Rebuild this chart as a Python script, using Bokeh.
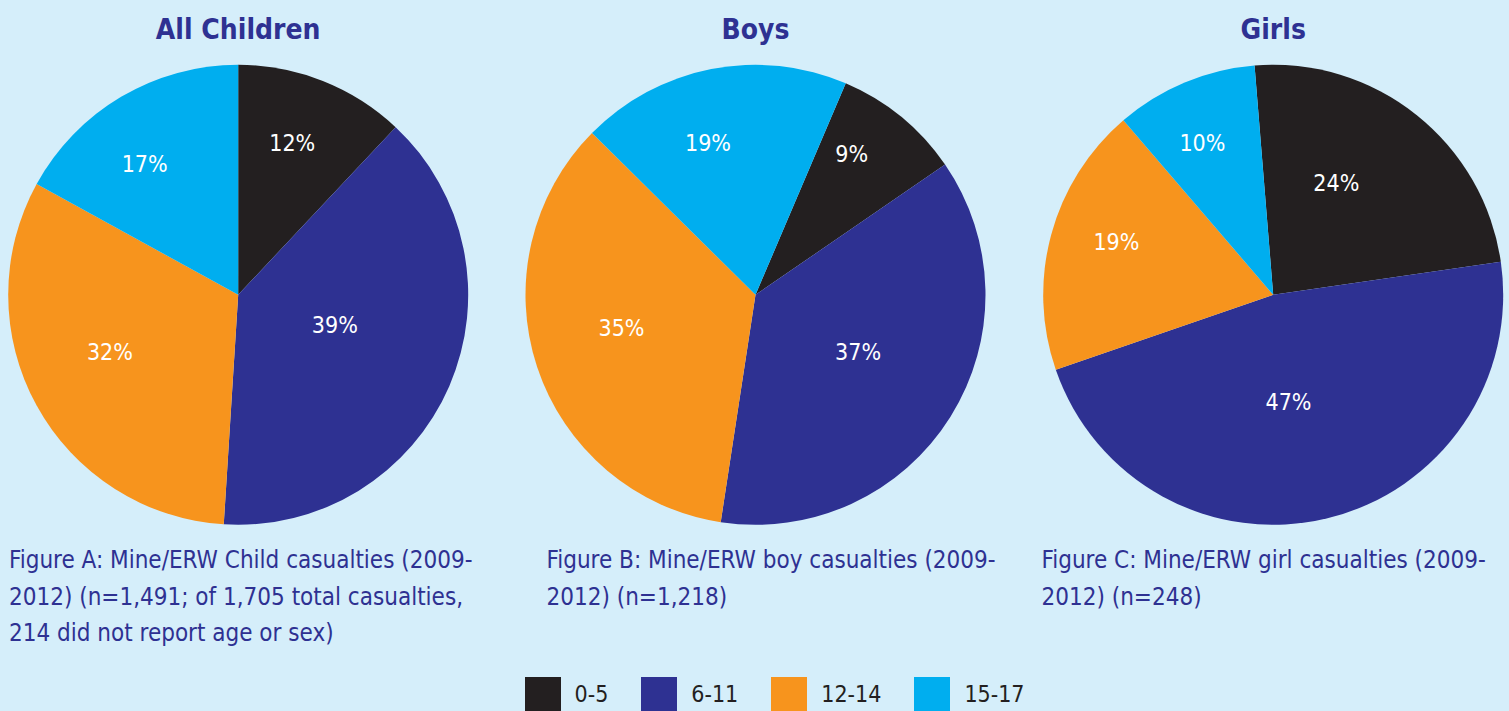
import math
from bokeh.plotting import figure
from bokeh.models import ColumnDataSource, Range1d
from bokeh.core.properties import value
from bokeh.embed import file_html
from bokeh.resources import INLINE

# ---------------- data ----------------
age_groups = ["0-5", "6-11", "12-14", "15-17"]
pie_titles = ["All Children", "Boys", "Girls"]
all_children = [12, 39, 32, 17]
boys = [9, 37, 35, 19]
girls = [24, 47, 19, 10]
captions = [
    ["Figure A: Mine/ERW Child casualties (2009-",
     "2012) (n=1,491; of 1,705 total casualties,",
     "214 did not report age or sex)"],
    ["Figure B: Mine/ERW boy casualties (2009-",
     "2012) (n=1,218)"],
    ["Figure C: Mine/ERW girl casualties (2009-",
     "2012) (n=248)"],
]

# ---------------- style / layout ----------------
colors = ["#231f20", "#2e3192", "#f7941d", "#00aeef"]
BG = "#d5eefa"
NAVY = "#2e3192"
FONT = "DejaVu Sans Condensed, Roboto, sans-serif"
W, H = 1509, 711
centers_x = [237.7, 755.0, 1272.7]
center_y = 416.7
R = 230
start_deg = [0.0, 23.1, -4.65]        # clockwise from 12 o'clock
# label placement: radius fraction and angular nudge from slice middle (deg)
label_r = [[0.70, 0.44, 0.61, 0.70],
           [0.74, 0.51, 0.60, 0.69],
           [0.56, 0.47, 0.72, 0.73]]
label_dtheta = [[-2.0, -6.1, 4.9, -4.9],
                [-4.9, -3.1, 4.4, -6.3],
                [-9.2, 5.5, 3.6, -2.3]]
caption_x = [8.5, 546.0, 1041.0]
caption_y0 = 151.5
caption_dy = 36.5
title_y = 682.5

series = [all_children, boys, girls]

p = figure(width=W, height=H, x_range=Range1d(0, W), y_range=Range1d(0, H),
           output_backend="svg", toolbar_location=None, min_border=0,
           x_axis_type=None, y_axis_type=None,
           background_fill_color=BG, border_fill_color=BG, outline_line_color=None)
p.grid.visible = False

wx, wy, ws, we, wc, wg = [], [], [], [], [], []
lx, ly, lt = [], [], []
for k, vals in enumerate(series):
    cum = start_deg[k]
    for i, v in enumerate(vals):
        t0 = cum
        t1 = cum + v * 3.6
        cum = t1
        wx.append(centers_x[k]); wy.append(center_y)
        ws.append(math.radians(90 - t0)); we.append(math.radians(90 - t1))
        wc.append(colors[i]); wg.append(age_groups[i])
        mid = math.radians((t0 + t1) / 2 + label_dtheta[k][i])
        rr = label_r[k][i] * R
        lx.append(centers_x[k] + rr * math.sin(mid))
        ly.append(center_y + rr * math.cos(mid))
        lt.append(f"{v}%")

wsrc = ColumnDataSource(dict(x=wx, y=wy, s=ws, e=we, c=wc, g=wg))
p.wedge(x="x", y="y", radius=R, start_angle="s", end_angle="e", direction="clock",
        fill_color="c", line_color=None, source=wsrc, legend_field="g")

p.text(x=lx, y=ly, text=lt, text_color="white", text_font=value(FONT),
       text_font_size="23px", text_align="center", text_baseline="middle")

p.text(x=centers_x, y=[title_y] * 3, text=pie_titles, text_color=NAVY,
       text_font=value(FONT), text_font_size="28px", text_font_style="bold",
       text_align="center", text_baseline="middle")

cx_, cy_, ct_ = [], [], []
for k, lines in enumerate(captions):
    for j, line in enumerate(lines):
        cx_.append(caption_x[k]); cy_.append(caption_y0 - j * caption_dy); ct_.append(line)
p.text(x=cx_, y=cy_, text=ct_, text_color=NAVY, text_font=value(FONT),
       text_font_size="24px", text_align="left", text_baseline="alphabetic")

lg = p.legend[0]
lg.orientation = "horizontal"
lg.location = (519.5, -5.5)
lg.glyph_width = 45
lg.glyph_height = 45
lg.label_standoff = 10
lg.spacing = 28
lg.padding = 0
lg.margin = 0
lg.border_line_alpha = 0
lg.background_fill_alpha = 0
lg.label_text_font = FONT
lg.label_text_font_size = "23px"
lg.label_text_color = "#231f20"

html = file_html(p, INLINE)
html = html.replace("</head>", "<style>html,body{background:%s;}</style></head>" % BG, 1)
open("out.html", "w").write(html)
